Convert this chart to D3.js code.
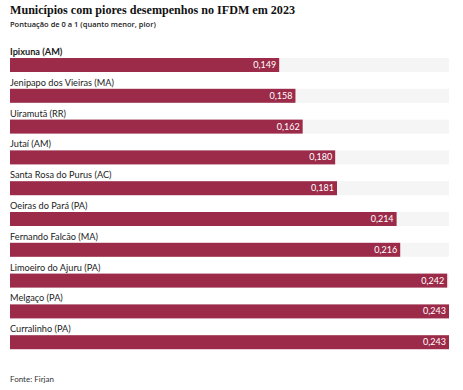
<!DOCTYPE html>
<html>
<head>
<meta charset="utf-8">
<script src="https://cdn.jsdelivr.net/npm/d3@7"></script>
<style>
  body { margin: 0; background: #fff; }
  text { font-family: Lato, "Open Sans", sans-serif; }
</style>
</head>
<body>
<svg id="chart"></svg>
<script>
let municipios = ['Ipixuna (AM)', 'Jenipapo dos Vieiras (MA)', 'Uiramutã (RR)', 'Jutaí (AM)',
  'Santa Rosa do Purus (AC)', 'Oeiras do Pará (PA)', 'Fernando Falcão (MA)',
  'Limoeiro do Ajuru (PA)', 'Melgaço (PA)', 'Curralinho (PA)']
let valores = [0.149, 0.158, 0.162, 0.180, 0.181, 0.214, 0.216, 0.242, 0.243, 0.243]

const widthSVG = 463
const heightSVG = 390
let svg = d3.select('#chart').attr('width', widthSVG).attr('height', heightSVG)

let datos = municipios.map((m, i) => ({nome: m, valor: valores[i]}))

let xScale = d3.scaleLinear()
    .domain([0, d3.max(valores)])
    .range([10, 449])

let yScale = d3.scaleBand()
    .domain(municipios)
    .range([46, 354])

let barH = 14
let fmt = v => d3.format('.3f')(v).replace('.', ',')

// titulo
svg.append('text')
   .attr('x', 10).attr('y', 14)
   .style('font-family', '"Liberation Serif", serif')
   .style('font-weight', 'bold')
   .style('font-size', '12.1px')
   .attr('fill', '#111')
   .text('Municípios com piores desempenhos no IFDM em 2023')

svg.append('text')
   .attr('x', 10).attr('y', 27)
   .style('font-family', '"Open Sans", sans-serif')
   .style('font-size', '7.5px')
   .style('font-weight', '600')
   .attr('fill', '#222')
   .text('Pontuação de 0 a 1 (quanto menor, pior)')

let g = svg.selectAll('g.linha')
   .data(datos)
   .enter()
   .append('g')
   .attr('class', 'linha')
   .attr('transform', d => 'translate(0,' + yScale(d.nome) + ')')

g.append('text')
   .attr('x', 10)
   .attr('y', 9)
   .style('font-size', '9.2px')
   .style('font-weight', (d, i) => i == 0 ? 'bold' : 'normal')
   .attr('fill', '#222')
   .text(d => d.nome)

g.append('rect')
   .attr('x', xScale(0))
   .attr('y', 12)
   .attr('width', xScale(d3.max(valores)) - xScale(0))
   .attr('height', barH)
   .attr('fill', '#f5f5f5')

g.append('rect')
   .attr('x', xScale(0))
   .attr('y', 12)
   .attr('width', d => xScale(d.valor) - xScale(0))
   .attr('height', barH)
   .attr('fill', '#9c2b4a')

g.append('text')
   .attr('x', d => xScale(d.valor) - 3)
   .attr('y', 12 + barH / 2 + 3)
   .attr('text-anchor', 'end')
   .style('font-size', '9px')
   .attr('fill', '#fff')
   .text(d => fmt(d.valor))

svg.append('text')
   .attr('x', 10).attr('y', 382)
   .style('font-size', '8px')
   .attr('fill', '#333')
   .text('Fonte: Firjan')
</script>
</body>
</html>
